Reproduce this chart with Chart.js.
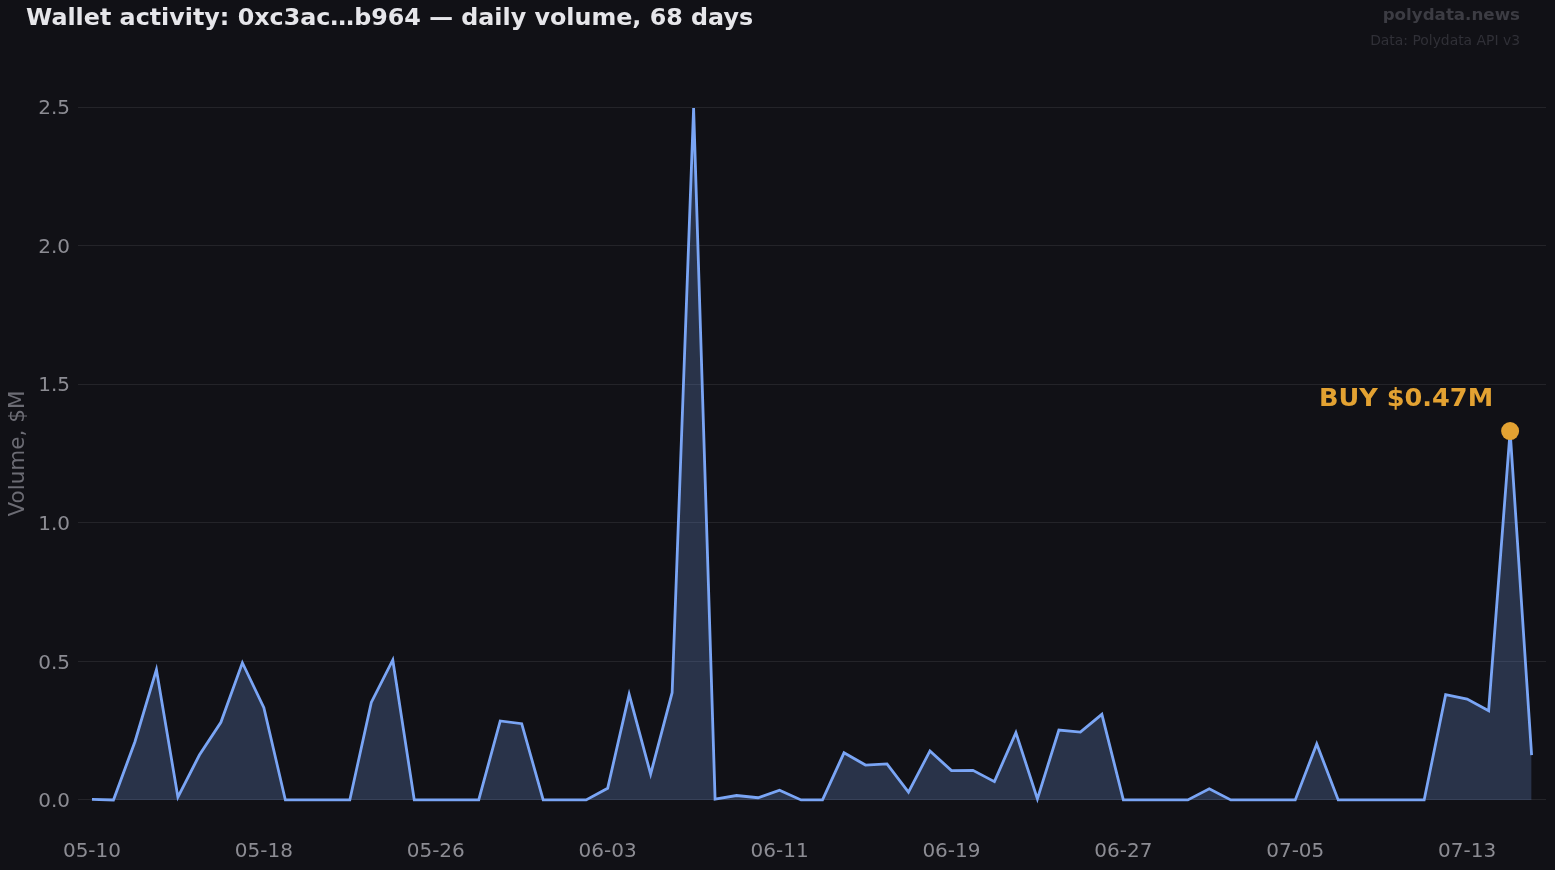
<!DOCTYPE html>
<html>
<head>
<meta charset="utf-8">
<title>Wallet activity</title>
<script src="https://cdn.jsdelivr.net/npm/chart.js@4.4.1/dist/chart.umd.min.js"></script>
<style>
  html, body { margin: 0; padding: 0; background: #111116; }
  canvas { display: block; }
</style>
</head>
<body>
<canvas id="volumeChart" width="1555" height="870"></canvas>
<script>
// daily volume in $M, one value per day starting 05-10 (68 days)
const volume = [
  0.002, 0.0, 0.21, 0.47, 0.01, 0.162, 0.28, 0.495, 0.333, 0.0,
  0.0, 0.0, 0.0, 0.352, 0.505, 0.0, 0.0, 0.0, 0.0, 0.285,
  0.275, 0.0, 0.0, 0.0, 0.042, 0.381, 0.093, 0.387, 2.496, 0.003,
  0.016, 0.008, 0.035, 0.0, 0.0, 0.17, 0.126, 0.13, 0.028, 0.177,
  0.106, 0.107, 0.066, 0.243, 0.004, 0.252, 0.245, 0.309, 0.0, 0.0,
  0.0, 0.0, 0.04, 0.0, 0.0, 0.0, 0.0, 0.202, 0.0, 0.0,
  0.0, 0.0, 0.0, 0.38, 0.364, 0.322, 1.331, 0.162
];

const xTickDays = [0, 8, 16, 24, 32, 40, 48, 56, 64];
const xTickLabels = ["05-10", "05-18", "05-26", "06-03", "06-11", "06-19", "06-27", "07-05", "07-13"];
const yTicks = [0, 0.5, 1.0, 1.5, 2.0, 2.5];

// highlighted trade
const markerDay = 66;
const markerLabel = "BUY $0.47M";

const FONT = "'DejaVu Sans', sans-serif";

/* background, header, watermark and trade label */
const decorPlugin = {
  id: "decor",
  beforeDraw(chart) {
    const ctx = chart.ctx;
    ctx.save();
    ctx.fillStyle = "#111116";
    ctx.fillRect(0, 0, chart.width, chart.height);
    ctx.restore();
  },
  afterDraw(chart) {
    const ctx = chart.ctx;
    ctx.save();
    ctx.textBaseline = "middle";

    ctx.fillStyle = "#e6e6ea";
    ctx.font = "bold 23.8px " + FONT;
    ctx.textAlign = "left";
    ctx.fillText("Wallet activity: 0xc3ac\u2026b964 \u2014 daily volume, 68 days", 26, 19);

    ctx.textAlign = "right";
    ctx.fillStyle = "#3c3c43";
    ctx.font = "bold 16.7px " + FONT;
    ctx.fillText("polydata.news", 1520, 16);
    ctx.fillStyle = "#303037";
    ctx.font = "13.9px " + FONT;
    ctx.fillText("Data: Polydata API v3", 1520, 41);

    // label next to the marker
    const px = chart.scales.x.getPixelForValue(markerDay);
    const py = chart.scales.y.getPixelForValue(volume[markerDay]);
    ctx.fillStyle = "#e3a232";
    ctx.font = "bold 25.6px " + FONT;
    ctx.fillText(markerLabel, px - 17, py - 32);
    ctx.restore();
  }
};

new Chart(document.getElementById("volumeChart"), {
  type: "line",
  data: {
    datasets: [
      {
        label: "trade",
        data: [{ x: markerDay, y: volume[markerDay] }],
        showLine: false,
        pointRadius: 9,
        pointBackgroundColor: "#e3a232",
        pointBorderWidth: 0,
        order: 0
      },
      {
        label: "Volume",
        data: volume.map((v, i) => ({ x: i, y: v })),
        borderColor: "#7aa5f5",
        borderWidth: 2.8,
        backgroundColor: "rgba(122,165,245,0.23)",
        fill: "origin",
        tension: 0,
        pointRadius: 0,
        order: 1
      }
    ]
  },
  options: {
    responsive: false,
    animation: false,
    layout: { padding: { top: 72.4, right: 8, left: 0, bottom: 0 } },
    plugins: {
      legend: { display: false },
      tooltip: { enabled: false }
    },
    scales: {
      x: {
        type: "linear",
        min: -0.65,
        max: 67.67,
        grid: { display: false, drawTicks: false },
        border: { display: false },
        afterBuildTicks: (scale) => { scale.ticks = xTickDays.map(v => ({ value: v })); },
        afterFit: (scale) => { scale.height = 35.4; },
        ticks: {
          autoSkip: false,
          maxRotation: 0,
          padding: 5,
          color: "#8c8c93",
          font: { family: FONT, size: 20 },
          callback: (v, i) => xTickLabels[i]
        }
      },
      y: {
        min: -0.125,
        max: 2.625,
        grid: { color: "#242429", lineWidth: 1, drawTicks: false },
        border: { display: false },
        afterBuildTicks: (scale) => { scale.ticks = yTicks.map(v => ({ value: v })); },
        afterFit: (scale) => { scale.width = 78; },
        ticks: {
          padding: 8,
          labelOffset: 2,
          color: "#8c8c93",
          font: { family: FONT, size: 20 },
          callback: (v) => v.toFixed(1)
        },
        title: {
          display: true,
          text: "Volume, $M",
          color: "#6c6c74",
          font: { family: FONT, size: 21.5 },
          padding: { top: 6, bottom: 0 }
        }
      }
    }
  },
  plugins: [decorPlugin]
});
</script>
</body>
</html>
